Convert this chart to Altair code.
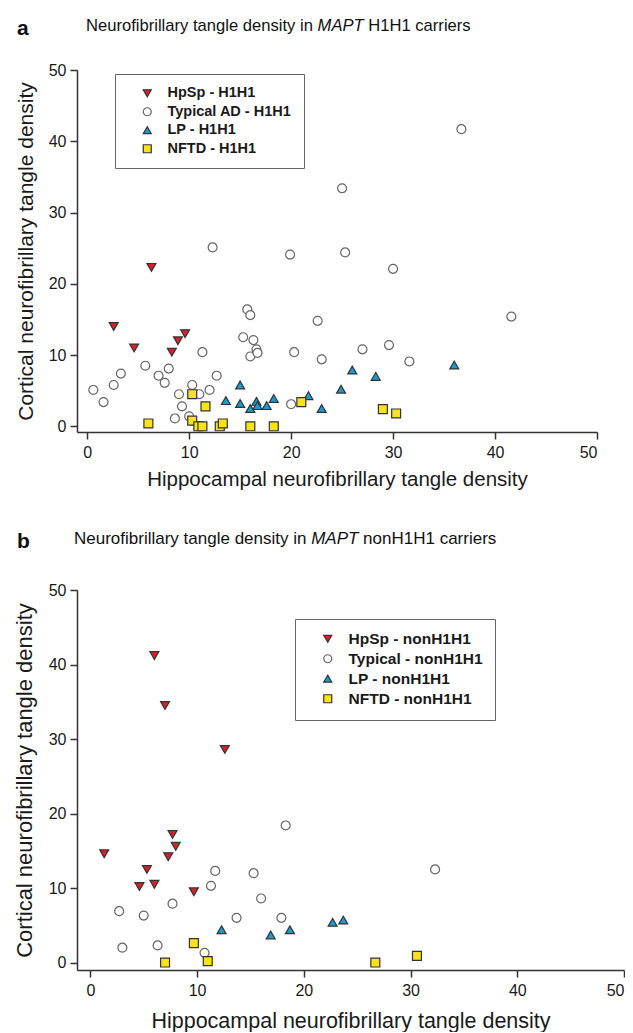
import altair as alt
import pandas as pd

# ---------------- Panel a: MAPT H1H1 carriers ----------------
labels_a = ["HpSp - H1H1", "Typical AD - H1H1", "LP - H1H1", "NFTD - H1H1"]
hpsp_a_x = [6.3, 2.6, 4.6, 8.3, 8.9, 9.6]
hpsp_a_y = [22.3, 14.0, 11.0, 10.4, 12.0, 13.0]
typ_a_x = [0.6, 1.6, 2.6, 3.3, 5.7, 7.0, 7.6, 8.0, 9.0, 9.3, 8.6, 10.0, 10.3, 11.0,
           11.3, 12.0, 12.7, 12.3, 15.3, 15.7, 16.0, 16.3, 16.0, 16.6, 16.7, 19.9,
           20.3, 20.0, 22.6, 23.0, 25.0, 25.3, 30.0, 36.7, 41.6, 27.0, 29.6, 31.6]
typ_a_y = [5.1, 3.4, 5.8, 7.4, 8.5, 7.1, 6.1, 8.1, 4.5, 2.8, 1.1, 1.4, 5.8, 4.5,
           10.4, 5.1, 7.1, 25.1, 12.5, 16.4, 15.6, 12.1, 9.8, 10.8, 10.3, 24.1,
           10.4, 3.1, 14.8, 9.4, 33.4, 24.4, 22.1, 41.7, 15.4, 10.8, 11.4, 9.1]
lp_a_x = [13.6, 15.0, 15.0, 16.0, 16.6, 16.7, 17.6, 18.3, 21.7, 23.0, 24.9, 26.0, 28.3, 36.0]
lp_a_y = [3.6, 5.8, 3.2, 2.5, 3.5, 2.9, 2.9, 3.9, 4.3, 2.5, 5.2, 7.9, 7.0, 8.6]
nftd_a_x = [6.0, 10.3, 10.3, 10.9, 11.3, 11.6, 13.0, 13.3, 16.0, 18.3, 21.0, 29.0, 30.3]
nftd_a_y = [0.4, 4.5, 0.8, 0.0, 0.0, 2.8, 0.0, 0.4, 0.0, 0.0, 3.4, 2.4, 1.8]

# ---------------- Panel b: MAPT nonH1H1 carriers ----------------
labels_b = ["HpSp - nonH1H1", "Typical - nonH1H1", "LP - nonH1H1", "NFTD - nonH1H1"]
hpsp_b_x = [6.0, 7.0, 12.6, 1.3, 7.7, 8.0, 7.3, 5.3, 4.6, 6.0, 9.7]
hpsp_b_y = [41.2, 34.5, 28.6, 14.6, 17.2, 15.6, 14.2, 12.5, 10.2, 10.5, 9.5]
typ_b_x = [18.3, 2.7, 3.0, 5.0, 6.3, 7.7, 10.7, 11.3, 11.7, 13.7, 15.3, 16.0, 17.9, 32.3]
typ_b_y = [18.4, 6.9, 2.0, 6.3, 2.3, 7.9, 1.3, 10.3, 12.3, 6.0, 12.0, 8.6, 6.0, 12.5]
lp_b_x = [12.3, 16.9, 18.7, 22.7, 23.7]
lp_b_y = [4.4, 3.7, 4.4, 5.4, 5.7]
nftd_b_x = [7.0, 9.7, 11.0, 26.7, 30.6]
nftd_b_y = [0.0, 2.6, 0.2, 0.0, 0.9]

ticks = [0, 10, 20, 30, 40, 50]
fills = ["#dc1f26", "#ffffff", "#1a9bd3", "#f8e21a"]
strokes = ["#333333", "#666666", "#333333", "#333333"]
shapes = ["triangle-down", "circle", "triangle-up", "square"]
FONT = "Liberation Sans"
TXT = "#1a1a1a"


def make_df(labels, groups):
    rows = []
    for lab, (xs, ys) in zip(labels, groups):
        for xv, yv in zip(xs, ys):
            rows.append({"x": xv, "y": yv, "group": lab})
    return pd.DataFrame(rows)


def text_layer(text, x, y, size, weight="normal", style="normal", align="left"):
    return alt.Chart(alt.Data(values=[{}])).mark_text(
        text=text, font=FONT, fontSize=size, fontWeight=weight, fontStyle=style,
        align=align, baseline="alphabetic", color="#111111"
    ).encode(x=alt.value(x), y=alt.value(y))


def panel(df, labels, xdom, ydom, w, h, leg_x, leg_y, leg_font, leg_rowpad,
          letter, tail, title_fs, title_x0, title_y, xtitle_fs, ytitle_fs, xtitle_pad):
    leg = alt.Legend(
        title=None, orient="none", legendX=leg_x, legendY=leg_y,
        strokeColor="#666666", fillColor="white", padding=12,
        symbolOffset=13, labelOffset=13, rowPadding=leg_rowpad,
        labelFont=FONT, labelFontSize=leg_font, labelFontWeight="bold",
        labelColor=TXT, symbolSize=64, symbolStrokeWidth=1.2,
    )
    pts = alt.Chart(df).mark_point(filled=True, opacity=1, size=80, strokeWidth=1.2).encode(
        x=alt.X("x:Q", scale=alt.Scale(domain=xdom, nice=False, zero=False),
                axis=alt.Axis(values=ticks, title="Hippocampal neurofibrillary tangle density",
                              titleFontSize=xtitle_fs, titlePadding=xtitle_pad, labelPadding=5)),
        y=alt.Y("y:Q", scale=alt.Scale(domain=ydom, nice=False, zero=False),
                axis=alt.Axis(values=ticks, title="Cortical neurofibrillary tangle density",
                              titleFontSize=ytitle_fs, titlePadding=12, labelPadding=4)),
        fill=alt.Fill("group:N", scale=alt.Scale(domain=labels, range=fills), legend=leg),
        stroke=alt.Stroke("group:N", scale=alt.Scale(domain=labels, range=strokes), legend=leg),
        shape=alt.Shape("group:N", scale=alt.Scale(domain=labels, range=shapes), legend=leg),
    )
    # title: "Neurofibrillary tangle density in " + italic "MAPT" + tail
    seg1 = "Neurofibrillary tangle density in"
    seg1_w = 13.671 * title_fs
    space = 0.278 * title_fs
    mapt_x = title_x0 + seg1_w + space
    mapt_w = 2.778 * title_fs
    layers = [
        pts,
        text_layer(letter, -60, title_y + 4, 21, weight="bold"),
        text_layer(seg1, title_x0, title_y, title_fs),
        text_layer("MAPT", mapt_x, title_y, title_fs, style="italic"),
        text_layer(tail, mapt_x + mapt_w + space, title_y, title_fs),
    ]
    return alt.layer(*layers).properties(width=w, height=h)


df_a = make_df(labels_a, [(hpsp_a_x, hpsp_a_y), (typ_a_x, typ_a_y),
                          (lp_a_x, lp_a_y), (nftd_a_x, nftd_a_y)])
df_b = make_df(labels_b, [(hpsp_b_x, hpsp_b_y), (typ_b_x, typ_b_y),
                          (lp_b_x, lp_b_y), (nftd_b_x, nftd_b_y)])

chart_a = panel(df_a, labels_a, [-1.0, 50], [-0.8, 50], 520, 362, 38, 4, 14.5, 3.5,
                "a", "H1H1 carriers", 16.6, 9, -39, 20.5, 21, 9)
chart_b = panel(df_b, labels_b, [-1.25, 50], [-1.0, 50], 547, 380, 218, 29, 15.5, 3,
                "b", "nonH1H1 carriers", 17, -3, -46, 21.5, 22, 12)

chart = alt.vconcat(chart_a, chart_b, spacing=40).resolve_scale(
    fill="independent", stroke="independent", shape="independent"
).resolve_legend(
    fill="independent", stroke="independent", shape="independent"
).properties(
    padding={"left": 5, "top": 10, "right": 0, "bottom": 0}
).configure_view(stroke=None).configure_axis(
    grid=False, domainColor="#333333", domainWidth=1.5, tickColor="#333333",
    tickWidth=1.5, tickSize=7, labelFont=FONT, labelFontSize=16, labelColor=TXT,
    titleFont=FONT, titleFontWeight="normal", titleColor=TXT,
)

chart.save("out.html", embed_options={"renderer": "svg", "actions": False})
